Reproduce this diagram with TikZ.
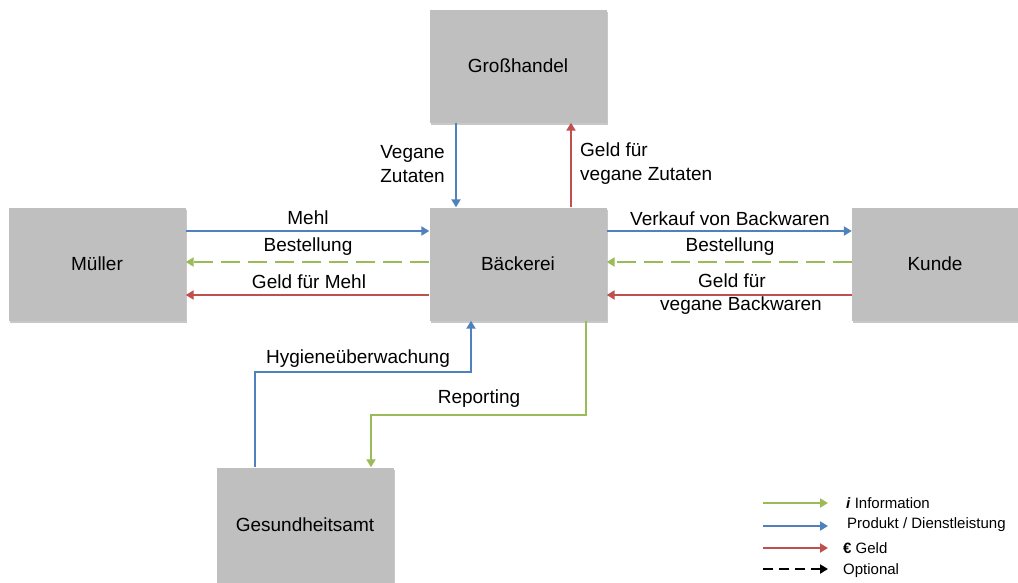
\documentclass[tikz,border=0pt]{standalone}
\usepackage{fontspec}
\setmainfont{Liberation Sans}
\usetikzlibrary{arrows.meta,shadows,calc}
\definecolor{boxgray}{HTML}{BFBFBF}
\definecolor{flowblue}{HTML}{4F81BD}
\definecolor{flowred}{HTML}{C0504D}
\definecolor{flowgreen}{HTML}{9BBB59}

\begin{document}
\begin{tikzpicture}[x=1pt,y=-1pt,
  box/.style={fill=boxgray, draw=none, inner sep=0pt,
    minimum width=177pt, minimum height=113pt,
    font=\fontsize{19}{22}\selectfont,
    drop shadow={shadow xshift=1pt, shadow yshift=-2.5pt, opacity=0.3, fill=black!70}},
  lbl/.style={inner sep=0pt, align=center, font=\fontsize{19}{24}\selectfont},
  legtext/.style={inner sep=0pt, anchor=west, font=\fontsize{15}{18}\selectfont},
  flow/.style={line width=2.2pt, -{Triangle[length=8pt,width=9pt]}},
  optional/.style={line width=2.8pt, dash pattern=on 19pt off 8pt},
  prod/.style={flow, flowblue},
  money/.style={flow, flowred},
  info/.style={flow, flowgreen}
]
\useasboundingbox (0,0) rectangle (1018,582);
\fill[white] (0,0) rectangle (1018,582);

% actors
\node[box] (gh) at (518,66)  {Großhandel};
\node[box] (bk) at (518,264) {Bäckerei};
\node[box] (mu) at (97,264)  {Müller};
\node[box, minimum width=166pt] (ku) at (935,264) {Kunde};
\node[box, minimum height=115pt] (ga) at (305,525) {Gesundheitsamt};

% Großhandel <-> Bäckerei
\draw[prod]  ([xshift=-62pt]gh.south) -- ([xshift=-62pt]bk.north);
\draw[money] ([xshift=53pt]bk.north) -- ([xshift=53pt]gh.south);
\node[lbl, align=right, anchor=east] (lzut) at (445,164) {Vegane\\Zutaten};
\node[lbl, align=left, anchor=west] (lgz) at (580,164) {Geld für\\vegane Zutaten};

% Müller <-> Bäckerei
\draw[prod]  ([yshift=33pt]mu.east) -- ([yshift=33pt]bk.west);
\draw[info, optional] ([yshift=2pt]bk.west) -- ([yshift=2pt]mu.east);
\draw[money] ([yshift=-31pt]bk.west) -- ([yshift=-31pt]mu.east);
\node[lbl] (lmehl) at (308,218) {Mehl};
\node[lbl] (lbm) at (308,247) {Bestellung};
\node[lbl] (lgm) at (309,282) {Geld für Mehl};

% Bäckerei <-> Kunde
\draw[prod]  ([yshift=33pt]bk.east) -- ([yshift=33pt]ku.west);
\draw[info, optional] ([yshift=2pt]ku.west) -- ([yshift=2pt]bk.west -| bk.east);
\draw[money] ([yshift=-31pt]ku.west) -- ([yshift=-31pt]bk.east);
\node[lbl] (lvk) at (730,219) {Verkauf von Backwaren};
\node[lbl] (lbk) at (730,247) {Bestellung};
\node[lbl] (lgk1) at (732,281) {Geld für};
\node[lbl] (lgk2) at (741,306) {vegane Backwaren};

% Gesundheitsamt <-> Bäckerei
\coordinate (hy) at (471,372);
\coordinate (rp) at (371,415);
\draw[prod] ([xshift=-50pt]ga.north) |- (hy) -- (hy |- bk.south);
\draw[info] ([xshift=68pt]bk.south) |- (rp) -- (rp |- ga.north);
\node[lbl] (lhy) at (358,359) {Hygieneüberwachung};
\node[lbl] (lrp) at (479,399) {Reporting};

% legend
\coordinate (k1) at (763,503);
\coordinate (k2) at (763,526);
\coordinate (k3) at (763,548);
\coordinate (k4) at (763,569);
\draw[info]  (k1) -- ++(65,0);
\draw[prod]  (k2) -- ++(65,0);
\draw[money] (k3) -- ++(65,0);
\draw[flow, black, line width=2.8pt, dash pattern=on 10pt off 6pt] (k4) -- ++(65,0);
\node[legtext] (t1) at (846,503) {\textbf{\textit{i}} Information};
\node[legtext] (t2) at (847,525) {Produkt / Dienstleistung};
\node[legtext] (t3) at (843,548) {\textbf{€} Geld};
\node[legtext] (t4) at (843,571) {Optional};
\end{tikzpicture}
\end{document}
